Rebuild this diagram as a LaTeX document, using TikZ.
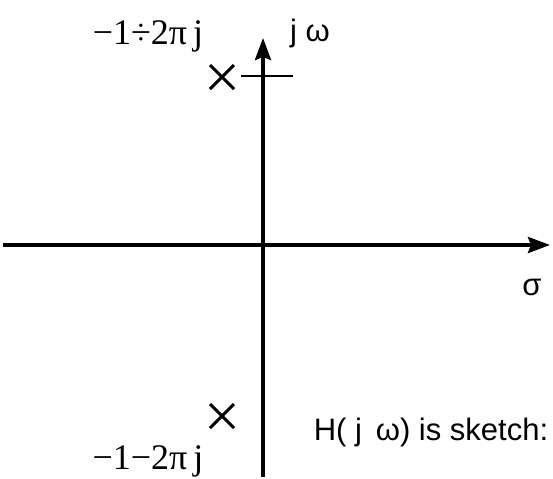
\documentclass[tikz,border=0pt]{standalone}
\usepackage{fontspec}
\setsansfont{Liberation Sans}
\newfontfamily\polefont{Liberation Serif}
\usetikzlibrary{arrows.meta,positioning,shapes.misc}
\tikzset{
  axisline/.style={-{Stealth[length=11pt,width=8pt,inset=1.5pt]},line width=1.7pt,draw=black},
  tickline/.style={line width=1.2pt,draw=black},
  polemark/.style={cross out,draw,line width=1.5pt,minimum size=10.5pt,inner sep=0pt},
  mathlabel/.style={font=\polefont\fontsize{18}{20}\selectfont},
  sanslabel/.style={font=\sffamily\fontsize{15.5}{18}\selectfont}
}
\begin{document}
\begin{tikzpicture}[x=0.5pt,y=-0.5pt]
  \useasboundingbox (0,0) rectangle (553,478);
  % axes
  \coordinate (sigmaL) at (3,245);
  \coordinate (sigmaR) at (550,245);
  \coordinate (omegaB) at (263,477);
  \coordinate (omegaT) at (263,38);
  \draw[axisline] (sigmaL) -- (sigmaR);
  \draw[axisline] (omegaB) -- (omegaT);
  \coordinate (tickL) at (241,76);
  \coordinate (tickR) at (293,76);
  \draw[tickline] (tickL) -- (tickR);
  % poles
  \node[polemark] (poleU) at (222,77) {};
  \node[polemark] (poleL) at (222,416) {};
  \node[mathlabel] (labU) at (148,36) {−1÷2π\,j};
  \node[mathlabel] (labL) at (148,461) {−1−2π\,j};
  % axis labels
  \node[sanslabel] (jw) at (310,33) {j ω};
  \node[sanslabel] (sig) at (532,287) {σ};
  \node[sanslabel] (note) at (431,432) {H( j \,ω) is sketch:};
\end{tikzpicture}
\end{document}
